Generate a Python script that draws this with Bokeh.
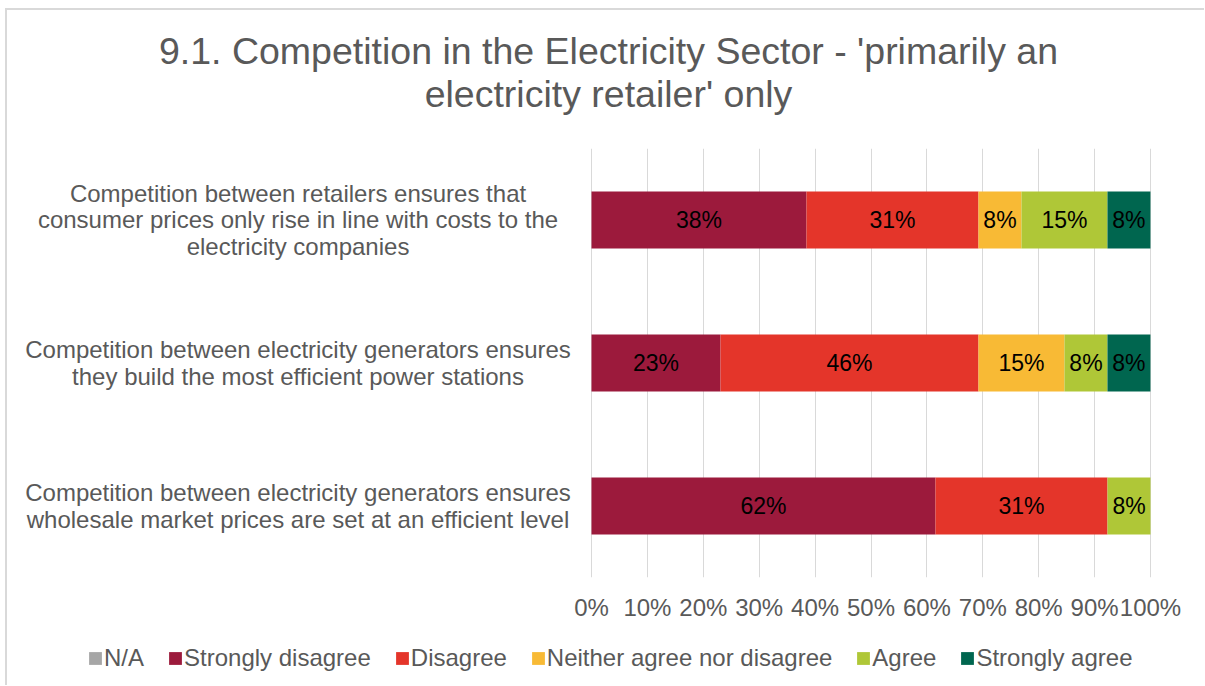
from bokeh.plotting import figure
from bokeh.layouts import column
from bokeh.models import (ColumnDataSource, Range1d, FixedTicker, Label, FactorRange,
                          Legend, LegendItem)
from bokeh.core.properties import value
from bokeh.embed import file_html
from bokeh.resources import INLINE

# ---------------- data ----------------
statements = [
    "Competition between retailers ensures that\nconsumer prices only rise in line with costs to the\nelectricity companies",
    "Competition between electricity generators ensures\nthey build the most efficient power stations",
    "Competition between electricity generators ensures\nwholesale market prices are set at an efficient level",
]
series_names = ["N/A", "Strongly disagree", "Disagree", "Neither agree nor disagree", "Agree", "Strongly agree"]
na = [0, 0, 0]
strongly_disagree = [38.46, 23.08, 61.54]
disagree = [30.77, 46.15, 30.77]
neither = [7.69, 15.38, 0]
agree = [15.38, 7.69, 7.69]
strongly_agree = [7.69, 7.69, 0]
series_colors = ["#A6A6A6", "#9C1A3C", "#E4352A", "#F8BA35", "#AFC737", "#00664F"]
tick_values = [0, 10, 20, 30, 40, 50, 60, 70, 80, 90, 100]
tick_labels = ["0%", "10%", "20%", "30%", "40%", "50%", "60%", "70%", "80%", "90%", "100%"]
title_text = "9.1. Competition in the Electricity Sector - 'primarily an\nelectricity retailer' only"

FONT = "Liberation Sans"
GRAY = "#595959"

# ---------------- layout constants (pixels) ----------------
W = 1197
TOP_H = 138          # title strip
BAND_H = 429         # frame height of the bar area
AXIS_H = 55          # room for the % tick labels
LEG_H = 53           # legend strip
PLOT_L, PLOT_R = 584, 1143   # canvas x of 0% and 100%
px_per_pct = (PLOT_R - PLOT_L) / 100.0


def base_fig(height, **kw):
    f = figure(width=W, height=height, output_backend="svg", toolbar_location=None,
               min_border_left=0, min_border_right=0, min_border_top=0, **kw)
    f.outline_line_color = None
    f.background_fill_color = "white"
    f.border_fill_color = "white"
    return f


# ---------------- title strip ----------------
p_title = base_fig(TOP_H, x_axis_type=None, y_axis_type=None, min_border_bottom=0,
                   x_range=Range1d(0, 1), y_range=Range1d(0, 1))
p_title.add_layout(Label(x=601, y=TOP_H - 62, x_units="screen", y_units="screen",
                         text=title_text, text_align="center", text_baseline="middle",
                         text_font=FONT, text_font_size="37.5px", text_color=GRAY,
                         text_line_height=1.045))

# ---------------- main bar area ----------------
keys = ["na", "sd", "d", "n", "a", "sa"]
data = dict(cat=statements, na=na, sd=strongly_disagree, d=disagree,
            n=neither, a=agree, sa=strongly_agree)
source = ColumnDataSource(data)

p = base_fig(BAND_H + AXIS_H, min_border_bottom=AXIS_H,
             x_range=Range1d(-PLOT_L / px_per_pct, 100 + (W - PLOT_R) / px_per_pct),
             y_range=FactorRange(factors=statements[::-1], range_padding=0))
p.hbar_stack(keys, y="cat", height=0.4, source=source,
             fill_color=series_colors, line_color=None)

# bar value labels
lx, ly, lt = [], [], []
for i, cat in enumerate(statements):
    start = 0.0
    for k in keys:
        v = data[k][i]
        if v > 0:
            lx.append(start + v / 2)
            ly.append(cat)
            lt.append(f"{round(v)}%")
        start += v
p.text(x=lx, y=ly, text=lt, text_align="center", text_baseline="middle",
       text_font=value(FONT), text_font_size="23px", text_color="#000000")

# category labels, left of the bars
p.text(x=[-52.5] * len(statements), y=statements, text=statements,
       text_align="center", text_baseline="middle",
       text_font=value(FONT), text_font_size="24px", text_color=GRAY, text_line_height=0.99)

p.yaxis.visible = False
p.ygrid.grid_line_color = None
p.xaxis.ticker = FixedTicker(ticks=tick_values)
p.xgrid.ticker = FixedTicker(ticks=tick_values)
p.xgrid.grid_line_color = "#D9D9D9"
p.xgrid.grid_line_width = 1
p.xaxis.major_label_overrides = {t: l for t, l in zip(tick_values, tick_labels)}
p.xaxis.axis_line_color = None
p.xaxis.major_tick_line_color = None
p.xaxis.minor_tick_line_color = None
p.xaxis.major_tick_out = 0
p.xaxis.major_tick_in = 0
p.xaxis.major_label_standoff = 16
p.xaxis.major_label_text_font = FONT
p.xaxis.major_label_text_font_size = "24px"
p.xaxis.major_label_text_color = GRAY

# ---------------- legend strip ----------------
p_leg = base_fig(LEG_H, x_axis_type=None, y_axis_type=None, min_border_bottom=0,
                 x_range=Range1d(0, 1), y_range=Range1d(0, 1))
items = []
for name, col in zip(series_names, series_colors):
    # zero-width swatch carrier: only its legend glyph is seen
    r = p_leg.hbar(y=[0.5], left=[0], right=[0], height=0.4, fill_color=col, line_color=None)
    items.append(LegendItem(label=name, renderers=[r]))
lg = Legend(items=items, orientation="horizontal", location=(80, 13),
            padding=0, margin=0, spacing=23, label_standoff=1,
            glyph_width=16, glyph_height=16,
            border_line_color=None, background_fill_alpha=0,
            label_text_font=FONT, label_text_font_size="24px", label_text_color=GRAY)
p_leg.add_layout(lg, "center")

layout = column(p_title, p, p_leg, spacing=0)
layout.styles = {"margin-left": "5px", "margin-top": "8px",
                 "border-top": "2px solid #D9D9D9", "border-left": "2px solid #D9D9D9"}

open("out.html", "w").write(file_html(layout, INLINE))
